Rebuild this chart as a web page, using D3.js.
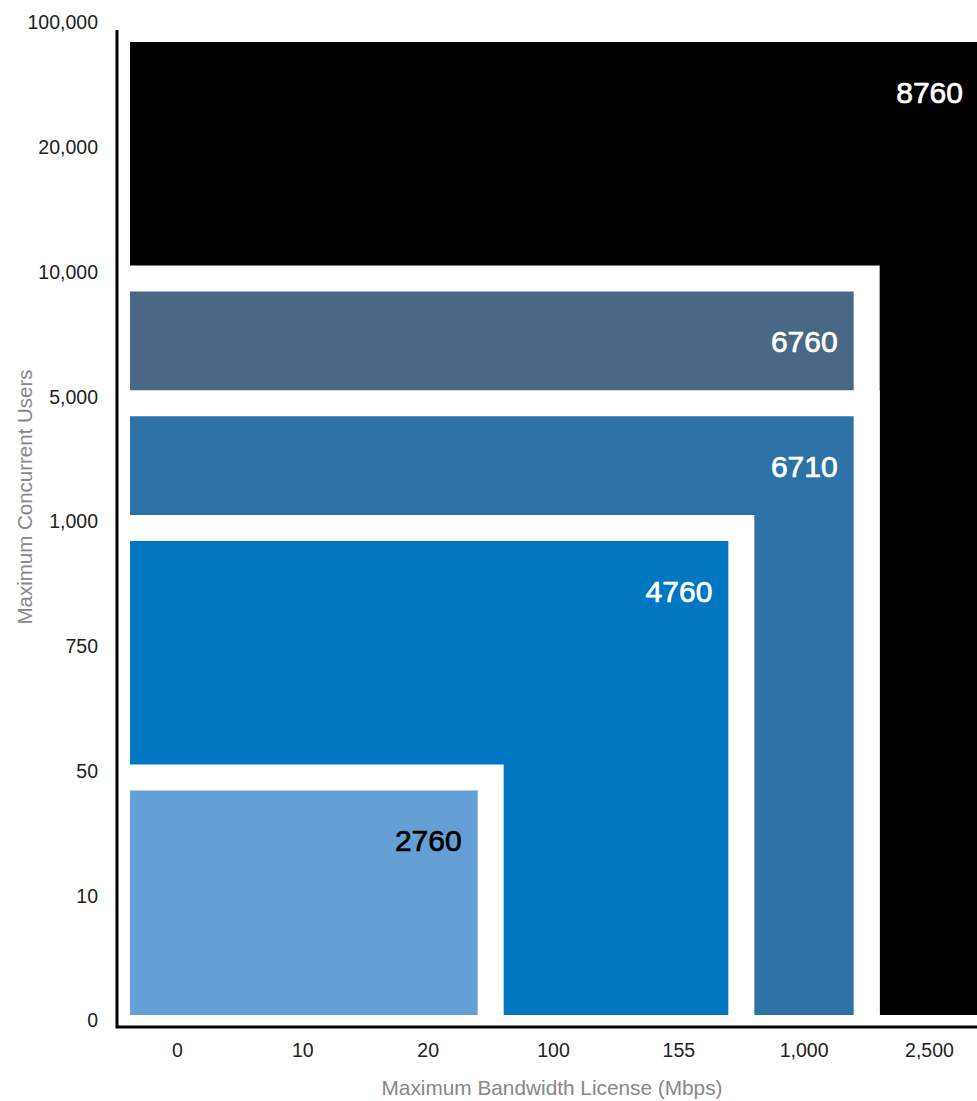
<!DOCTYPE html>
<html><head><meta charset="utf-8">
<script src="https://cdn.jsdelivr.net/npm/d3@7"></script>
<style>
html,body{margin:0;padding:0;background:#fff;}
svg{display:block;}
</style></head>
<body>
<script>
// Data
const userTicks = ["0","10","50","750","1,000","5,000","10,000","20,000","100,000"];
const bandwidthTicks = ["0","10","20","100","155","1,000","2,500"];
const tierLabels = ["8760","6760","6710","4760","2760"];
const tierBandwidth = ["2,500","1,000","1,000","155","20"];
const tierUsers = ["100,000","10,000","5,000","1,000","50"];
const tierColors = ["#000000","#4a6886","#2c72a6","#0077c0","#64a0d5"];
const tierTextColors = ["#ffffff","#ffffff","#ffffff","#ffffff","#000000"];

const W = 977, H = 1101;
const svg = d3.select("body").append("svg").attr("width", W).attr("height", H);

const y = d3.scalePoint().domain(userTicks).range([1020, 22]);
const x = d3.scalePoint().domain(bandwidthTicks).range([177, 929]);

const left = 130, bottom = 1015, gap = 26;
const tiers = tierLabels.map((l, i) => ({
  label: l, bw: tierBandwidth[i], users: tierUsers[i],
  color: tierColors[i], text: tierTextColors[i]
}));

const g = svg.append("g");
tiers.forEach((d, i) => {
  const right = x(d.bw) + 50;
  const top = y(d.users) + 20;
  if (i > 0) {
    g.append("rect").attr("x", left).attr("y", top - gap)
      .attr("width", right + gap - left).attr("height", bottom - top + gap)
      .attr("fill", "#fff");
  }
  g.append("rect").attr("x", left).attr("y", top)
    .attr("width", right - left).attr("height", bottom - top)
    .attr("fill", d.color);
});
tiers.forEach((d) => {
  const right = x(d.bw) + 50;
  const top = y(d.users) + 20;
  g.append("text").attr("x", right - 16).attr("y", top + 50)
    .attr("text-anchor", "end").attr("dominant-baseline", "central")
    .attr("font-family", "'Liberation Sans', Arial, sans-serif")
    .attr("font-size", 30)
    .attr("fill", d.text).attr("stroke", d.text).attr("stroke-width", 0.7)
    .text(d.label);
});

// Axes
const font = "'Liberation Sans', Arial, sans-serif";
const yAxis = d3.axisLeft(y).tickSize(0).tickPadding(0);
const ya = svg.append("g").attr("transform", "translate(98,0)").call(yAxis);
ya.select(".domain").remove();
ya.selectAll("text").attr("font-family", font)
  .attr("font-size", 19.5).attr("fill", "#222").attr("dy", "0.35em");

const xAxis = d3.axisBottom(x).tickSize(0).tickPadding(0);
const xa = svg.append("g").attr("transform", "translate(0,1043)").call(xAxis);
xa.select(".domain").remove();
xa.selectAll("text").attr("font-family", font)
  .attr("font-size", 19.5).attr("fill", "#222");

svg.append("path").attr("d", `M117,30 V1027 H${W}`)
  .attr("fill", "none").attr("stroke", "#000").attr("stroke-width", 3);

svg.append("text").attr("x", 552).attr("y", 1095).attr("text-anchor", "middle")
  .attr("font-family", font).attr("font-size", 20.8)
  .attr("fill", "#888").text("Maximum Bandwidth License (Mbps)");
svg.append("text").attr("transform", "translate(32,497) rotate(-90)").attr("text-anchor", "middle")
  .attr("font-family", font).attr("font-size", 20.5)
  .attr("fill", "#888").text("Maximum Concurrent Users");
</script>
</body></html>
